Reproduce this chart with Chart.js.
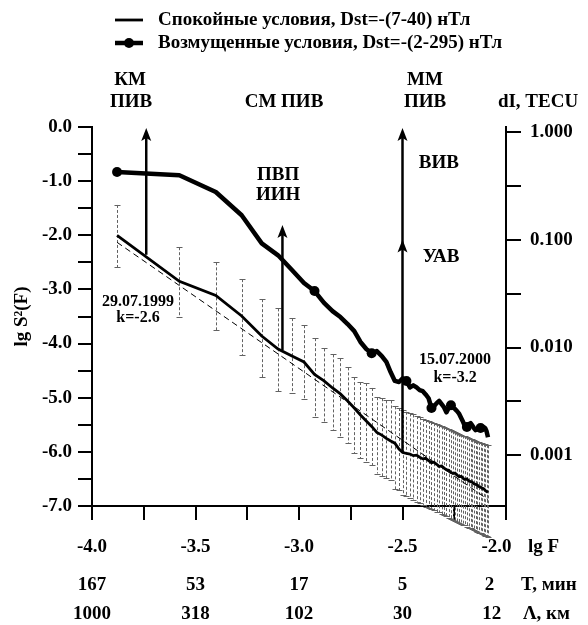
<!DOCTYPE html>
<html>
<head>
<meta charset="utf-8">
<script src="https://cdn.jsdelivr.net/npm/chart.js@4.4.1/dist/chart.umd.min.js"></script>
<style>
  html, body { margin: 0; padding: 0; background: #fff; }
  #wrap { width: 588px; height: 625px; }
</style>
</head>
<body>
<div id="wrap"><canvas id="spectrum" width="588" height="625"></canvas></div>
<script>
// Spectral frequencies, lg F (F in Hz)
const lgF = [
  -3.879, -3.578, -3.402, -3.277, -3.180, -3.101, -3.034, -2.976, -2.925, -2.879,
  -2.838, -2.800, -2.765, -2.733, -2.703, -2.675, -2.649, -2.624, -2.600, -2.578,
  -2.557, -2.537, -2.517, -2.499, -2.481, -2.464, -2.448, -2.432, -2.417, -2.402,
  -2.388, -2.374, -2.360, -2.348, -2.335, -2.323, -2.311, -2.299, -2.288, -2.277,
  -2.266, -2.256, -2.246, -2.236, -2.226, -2.216, -2.207, -2.198, -2.189, -2.180,
  -2.171, -2.163, -2.155, -2.147, -2.139, -2.131, -2.123, -2.116, -2.108, -2.101,
  -2.094, -2.087
];

// lg S^2(F), quiet conditions (mean spectrum)
const quiet = [
  -2.00, -2.85, -3.11, -3.49, -3.86, -4.10, -4.23, -4.34, -4.57, -4.69,
  -4.82, -4.93, -5.06, -5.19, -5.32, -5.43, -5.53, -5.64, -5.69, -5.75,
  -5.80, -5.84, -5.95, -6.01, -6.03, -6.04, -6.07, -6.06, -6.10, -6.13,
  -6.12, -6.16, -6.20, -6.19, -6.23, -6.27, -6.26, -6.30, -6.33, -6.34,
  -6.38, -6.40, -6.39, -6.43, -6.46, -6.45, -6.49, -6.51, -6.50, -6.54,
  -6.55, -6.56, -6.59, -6.60, -6.61, -6.64, -6.65, -6.67, -6.68, -6.71,
  -6.73, -6.75
];

// lg S^2(F), disturbed conditions
const disturbed = [
  -0.83, -0.89, -1.20, -1.63, -2.15, -2.37, -2.64, -2.88, -3.03, -3.25,
  -3.40, -3.51, -3.64, -3.77, -3.97, -4.10, -4.18, -4.14, -4.23, -4.34,
  -4.53, -4.69, -4.71, -4.64, -4.69, -4.81, -4.77, -4.81, -4.86, -4.88,
  -4.94, -5.01, -5.19, -5.16, -5.10, -5.06, -5.12, -5.18, -5.27, -5.19,
  -5.14, -5.18, -5.21, -5.25, -5.30, -5.38, -5.45, -5.53, -5.54, -5.49,
  -5.47, -5.51, -5.56, -5.60, -5.58, -5.56, -5.56, -5.54, -5.54, -5.56,
  -5.62, -5.73
];

// Spread of the quiet-day spectra: upper and lower bounds
const spreadTop = [
  -1.44, -2.22, -2.50, -2.81, -3.18, -3.35, -3.53, -3.66, -3.90, -4.09,
  -4.20, -4.27, -4.44, -4.62, -4.71, -4.73, -4.82, -4.99, -5.01, -5.05,
  -5.05, -5.16, -5.19, -5.23, -5.26, -5.29, -5.31, -5.34, -5.36, -5.39,
  -5.41, -5.43, -5.45, -5.47, -5.49, -5.51, -5.53, -5.54, -5.56, -5.58,
  -5.60, -5.62, -5.64, -5.66, -5.67, -5.68, -5.70, -5.71, -5.73, -5.75,
  -5.76, -5.77, -5.79, -5.80, -5.81, -5.82, -5.83, -5.84, -5.85, -5.86,
  -5.87, -5.88
];
const spreadBottom = [
  -2.59, -3.51, -3.75, -4.21, -4.62, -4.88, -4.92, -5.03, -5.36, -5.45,
  -5.60, -5.73, -5.84, -6.03, -6.12, -6.19, -6.25, -6.40, -6.45, -6.49,
  -6.52, -6.69, -6.71, -6.79, -6.82, -6.86, -6.89, -6.92, -6.95, -6.98,
  -7.01, -7.03, -7.06, -7.08, -7.11, -7.12, -7.15, -7.17, -7.19, -7.22,
  -7.24, -7.26, -7.27, -7.29, -7.31, -7.33, -7.35, -7.36, -7.38, -7.40,
  -7.41, -7.43, -7.45, -7.47, -7.48, -7.49, -7.50, -7.52, -7.53, -7.55,
  -7.56, -7.58
];

// Indices of the disturbed-spectrum points drawn with a marker
const disturbedMarkers = [0, 8, 16, 24, 32, 40, 48, 56];

// Power-law fit of the quiet spectrum (end points)
const fitX = [-3.879, -2.087];
const fitY = [-2.13, -6.88];

// Frequency axis labels and the secondary scales under it
const freqLabels = ['-4.0', '-3.5', '-3.0', '-2.5', '-2.0'];  // lg F
const periodLabels = ['167', '53', '17', '5', '2'];            // T, min
const wavelengthLabels = ['1000', '318', '102', '30', '12'];   // Λ, km

// Right axis: dI, TECU
const tecTicks = [1, 0.316, 0.1, 0.0316, 0.01, 0.00316, 0.001];
const tecMin = 0.000339;
const tecMax = 1.112;

// Vertical arrows marking disturbance classes: lg F, start, tip, arrowheads
const arrows = [
  { x: -3.738, from: -2.36, to: -0.02, heads: [-0.02] },
  { x: -3.080, from: -4.12, to: -1.81, heads: [-1.81] },
  { x: -2.500, from: -6.00, to: -0.02, heads: [-0.02, -2.08] }
];

// Labels placed in data coordinates (lg F, lg S^2)
const plotNotes = [
  { text: 'ПВП', x: -3.101, y: -0.89, size: 19 },
  { text: 'ИИН', x: -3.101, y: -1.26, size: 19 },
  { text: 'ВИВ', x: -2.324, y: -0.66, size: 19 },
  { text: 'УАВ', x: -2.314, y: -2.40, size: 19 },
  { text: '29.07.1999', x: -3.778, y: -3.23, size: 16 },
  { text: 'k=-2.6', x: -3.778, y: -3.53, size: 16 },
  { text: '15.07.2000', x: -2.246, y: -4.30, size: 16 },
  { text: 'k=-3.2', x: -2.246, y: -4.64, size: 16 }
];

// Headings above the plot area
const topNotes = [
  { text: 'КМ', x: 130, y: 80 },
  { text: 'ПИВ', x: 131, y: 102 },
  { text: 'СМ ПИВ', x: 284, y: 102 },
  { text: 'ММ', x: 425, y: 80 },
  { text: 'ПИВ', x: 425, y: 102 },
  { text: 'dI, TECU', x: 538, y: 102 }
];

const FONT = '"Liberation Serif", "Times New Roman", serif';
Chart.defaults.font.family = FONT;
Chart.defaults.font.weight = 'bold';
Chart.defaults.font.size = 19;
Chart.defaults.color = '#000';

const isHalf = v => Math.abs(v * 2 - Math.round(v * 2)) < 1e-9;
const isDecade = v => Math.abs(Math.log10(v) - Math.round(Math.log10(v))) < 1e-6;
// the rightmost column of bottom labels sits a little left of its tick,
// leaving room for the unit names
const padLast = (arr, i, pad) => i === arr.length - 1 ? arr[i] + ' '.repeat(pad) : arr[i];

// Quiet-day spread, drawn as dashed bars with caps below the curves
const spreadBars = {
  id: 'spreadBars',
  beforeDatasetsDraw(chart) {
    const { ctx, scales: { x, y } } = chart;
    ctx.save();
    ctx.strokeStyle = '#626262';
    ctx.lineWidth = 1;
    lgF.forEach((f, i) => {
      const px = Math.round(x.getPixelForValue(f)) + 0.5;
      const pt = y.getPixelForValue(spreadTop[i]);
      const pb = y.getPixelForValue(spreadBottom[i]);
      ctx.setLineDash([3, 2]);
      ctx.beginPath();
      ctx.moveTo(px, pt);
      ctx.lineTo(px, pb);
      ctx.stroke();
      ctx.setLineDash([]);
      ctx.beginPath();
      ctx.moveTo(px - 3, Math.round(pt) + 0.5);
      ctx.lineTo(px + 3, Math.round(pt) + 0.5);
      ctx.moveTo(px - 3, Math.round(pb) + 0.5);
      ctx.lineTo(px + 3, Math.round(pb) + 0.5);
      ctx.stroke();
    });
    ctx.restore();
  }
};

// Arrows, in-plot labels, headings, unit labels and legend
const annotations = {
  id: 'annotations',
  afterDraw(chart) {
    const { ctx, scales: { x, y, xT, xL } } = chart;
    ctx.save();
    ctx.fillStyle = '#000';
    ctx.strokeStyle = '#000';

    arrows.forEach(a => {
      const px = x.getPixelForValue(a.x);
      ctx.lineWidth = 2.5;
      ctx.beginPath();
      ctx.moveTo(px, y.getPixelForValue(a.from));
      ctx.lineTo(px, y.getPixelForValue(a.to) + 6);
      ctx.stroke();
      a.heads.forEach(h => {
        const tip = y.getPixelForValue(h);
        ctx.beginPath();
        ctx.moveTo(px, tip);
        ctx.lineTo(px - 5, tip + 13);
        ctx.lineTo(px, tip + 10);
        ctx.lineTo(px + 5, tip + 13);
        ctx.closePath();
        ctx.fill();
      });
    });

    ctx.textAlign = 'center';
    ctx.textBaseline = 'middle';
    plotNotes.forEach(n => {
      ctx.font = `bold ${n.size}px ${FONT}`;
      ctx.fillText(n.text, x.getPixelForValue(n.x), y.getPixelForValue(n.y));
    });

    ctx.font = `bold 19px ${FONT}`;
    topNotes.forEach(n => ctx.fillText(n.text, n.x, n.y));

    // unit names to the right of the bottom scales
    ctx.textAlign = 'left';
    ctx.fillText('lg F', 528, x.top + 41);
    ctx.fillText('T, мин', 521, xT.top + 20);
    ctx.fillText('Λ, км', 523, xL.top + 20);

    // legend
    const items = chart.data.datasets.slice(0, 2);
    const rows = [20, 43];
    items.forEach((ds, i) => {
      const ly = rows[i];
      ctx.lineWidth = ds.borderWidth;
      ctx.beginPath();
      ctx.moveTo(115, ly);
      ctx.lineTo(143, ly);
      ctx.stroke();
      if (i === 1) {
        ctx.beginPath();
        ctx.arc(129, ly, 5, 0, Math.PI * 2);
        ctx.fill();
      }
      ctx.textAlign = 'left';
      ctx.fillText(ds.label, 158, ly);
    });
    ctx.restore();
  }
};

const toPoints = (xs, ys) => xs.map((v, i) => ({ x: v, y: ys[i] }));

new Chart(document.getElementById('spectrum'), {
  type: 'line',
  data: {
    datasets: [
      {
        label: 'Спокойные условия, Dst=-(7-40) нТл',
        data: toPoints(lgF, quiet),
        borderColor: '#000',
        borderWidth: 2.8,
        pointRadius: 0,
        tension: 0
      },
      {
        label: 'Возмущенные условия, Dst=-(2-295) нТл',
        data: toPoints(lgF, disturbed),
        borderColor: '#000',
        borderWidth: 4.5,
        borderJoinStyle: 'round',
        pointRadius: ctx => disturbedMarkers.includes(ctx.dataIndex) ? 5 : 0,
        pointBackgroundColor: '#000',
        pointBorderWidth: 0,
        tension: 0
      },
      {
        label: 'fit',
        data: toPoints(fitX, fitY),
        borderColor: '#000',
        borderWidth: 1,
        borderDash: [6, 4],
        pointRadius: 0
      }
    ]
  },
  options: {
    responsive: false,
    animation: false,
    devicePixelRatio: 1,
    layout: { padding: { top: 127, left: 0, right: 0, bottom: 0 } },
    plugins: { legend: { display: false }, tooltip: { enabled: false } },
    scales: {
      x: {
        type: 'linear', position: 'bottom', min: -4, max: -2, weight: 0,
        ticks: {
          stepSize: 0.25, padding: 16, autoSkip: false, maxRotation: 0, minRotation: 0,
          callback: v => isHalf(v) ? padLast(freqLabels, Math.round((v + 4) * 2), 4) : ''
        },
        grid: { drawOnChartArea: false, color: '#000', lineWidth: 2, tickLength: 14 },
        border: { color: '#000', width: 2 },
        afterFit: s => { s.height = 59; }
      },
      xT: {
        type: 'linear', position: 'bottom', min: -4, max: -2, weight: 1,
        ticks: {
          stepSize: 0.5, padding: 9, autoSkip: false, maxRotation: 0, minRotation: 0,
          callback: (v, i) => padLast(periodLabels, i, 7)
        },
        grid: { display: false, drawTicks: false },
        border: { display: false },
        afterFit: s => { s.height = 29; }
      },
      xL: {
        type: 'linear', position: 'bottom', min: -4, max: -2, weight: 2,
        ticks: {
          stepSize: 0.5, padding: 9, autoSkip: false, maxRotation: 0, minRotation: 0,
          callback: (v, i) => padLast(wavelengthLabels, i, 6)
        },
        grid: { display: false, drawTicks: false },
        border: { display: false },
        afterFit: s => { s.height = 31; }
      },
      y: {
        type: 'linear', position: 'left', min: -7, max: 0,
        ticks: {
          stepSize: 0.5, padding: 6, autoSkip: false,
          callback: v => Number.isInteger(v) ? v.toFixed(1) : ''
        },
        grid: { drawOnChartArea: false, color: '#000', lineWidth: 2, tickLength: 14 },
        border: { color: '#000', width: 2 },
        title: { display: true, text: 'lg S²(F)', color: '#000', font: { size: 19, weight: 'bold' }, padding: { top: 11, bottom: 0 } },
        afterFit: s => { s.width = 92; }
      },
      y2: {
        type: 'logarithmic', position: 'right', min: tecMin, max: tecMax, bounds: 'data',
        afterBuildTicks: s => { s.ticks = tecTicks.map(v => ({ value: v })); },
        ticks: {
          padding: 9, autoSkip: false,
          callback: v => isDecade(v) ? v.toFixed(3) : ''
        },
        grid: { drawOnChartArea: false, color: '#000', lineWidth: 2, tickLength: 15 },
        border: { color: '#000', width: 2 },
        afterFit: s => { s.width = 82; }
      }
    }
  },
  plugins: [spreadBars, annotations]
});
</script>
</body>
</html>
